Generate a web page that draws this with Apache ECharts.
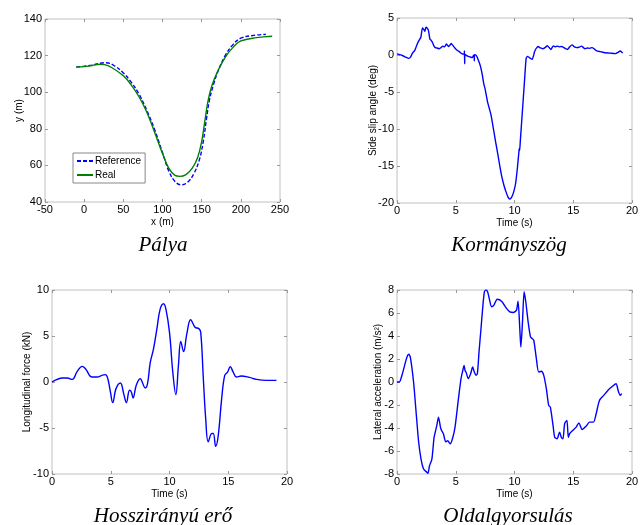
<!DOCTYPE html>
<html>
<head>
<meta charset="utf-8">
<script src="https://cdn.jsdelivr.net/npm/echarts@6/dist/echarts.min.js"></script>
<style>
html,body{margin:0;padding:0;background:#fff;}
#chart{width:642px;height:525px;}
</style>
</head>
<body>
<div id="chart"></div>
<script>
// ---------- Data ----------
// Panel 1: path, [x (m), y (m)]
const pathReference = [[-10,113.8],[0,114.2],[10,114.8],[20,115.8],[28,116.1],[38,114.6],[50,110.5],[60,105.5],[70,99],[80,90],[90,79.5],[100,67],[108,57],[116,51.2],[124,49.4],[132,50.8],[140,55.5],[147,63],[152,73],[156,85],[160,96],[165,104],[170,110.5],[180,120],[190,126],[200,129.5],[215,131],[232,131.6]];
const pathReal = [[-10,113.8],[0,114],[10,114.6],[20,115.3],[26,115.1],[35,113.5],[50,109],[60,104],[70,97.5],[80,89],[90,78],[100,66.5],[108,58.5],[116,54.5],[122,54],[130,55],[138,58.5],[145,64.5],[150,73],[154,84],[158,95],[163,103.5],[170,111],[180,119],[190,124.5],[200,128],[220,129.8],[240,130.6]];

// Panel 2: side slip angle, [time (s), deg]
const sideSlip = [[0,0.15],[0.25,0.05],[0.5,-0.1],[0.75,-0.3],[1.0,-0.46],[1.15,-0.3],[1.33,0.3],[1.5,0.6],[1.61,1.0],[1.75,1.6],[1.89,2.0],[2.03,2.4],[2.17,3.65],[2.3,3.4],[2.37,3.2],[2.45,3.7],[2.51,3.74],[2.6,3.55],[2.68,3.3],[2.8,2.15],[2.9,2.0],[3.02,1.7],[3.15,1.2],[3.25,1.0],[3.4,0.95],[3.6,0.85],[3.75,1.0],[3.9,1.2],[4.05,1.1],[4.2,1.5],[4.3,1.3],[4.4,1.15],[4.5,1.3],[4.6,1.55],[4.7,1.4],[4.85,1.1],[5.0,0.8],[5.15,0.6],[5.3,0.45],[5.45,0.25],[5.6,0.1],[5.72,0.2],[5.74,0.55],[5.76,-1.2],[5.78,0.1],[5.9,-0.05],[6.0,-0.14],[6.2,-0.25],[6.4,-0.35],[6.5,-0.1],[6.56,0.0],[6.58,-0.8],[6.6,0.05],[6.7,0.0],[6.8,-0.2],[6.9,-0.6],[7.0,-1.0],[7.1,-1.5],[7.25,-2.6],[7.4,-4.0],[7.5,-4.6],[7.7,-6.3],[7.85,-7.2],[8.0,-8.1],[8.25,-10.4],[8.4,-11.8],[8.6,-13.6],[8.75,-15.0],[8.9,-16.3],[9.1,-17.6],[9.3,-18.6],[9.45,-19.2],[9.6,-19.45],[9.7,-19.35],[9.8,-19.1],[9.95,-18.4],[10.1,-17.3],[10.25,-15.2],[10.38,-13.0],[10.42,-12.6],[10.44,-12.9],[10.5,-11.5],[10.65,-8.1],[10.75,-5.8],[10.85,-3.56],[10.93,-1.6],[11.0,-0.4],[11.1,-0.2],[11.2,-0.27],[11.35,-0.45],[11.5,-0.6],[11.6,-0.2],[11.7,0.4],[11.8,0.78],[11.9,1.0],[12.0,1.14],[12.2,0.95],[12.4,0.85],[12.6,1.0],[12.8,1.25],[12.95,1.0],[13.1,0.75],[13.2,1.0],[13.3,1.23],[13.5,1.1],[13.65,1.2],[13.8,1.1],[14.0,1.15],[14.1,1.1],[14.3,0.9],[14.5,0.75],[14.7,1.1],[14.9,1.37],[15.1,1.1],[15.3,1.0],[15.5,1.05],[15.7,1.2],[15.9,0.95],[16.0,0.85],[16.2,0.95],[16.4,0.9],[16.6,1.0],[16.8,0.8],[17.0,0.55],[17.3,0.45],[17.7,0.3],[18.1,0.25],[18.6,0.18],[18.85,0.4],[19.0,0.55],[19.1,0.45],[19.2,0.27]];

// Panel 3: longitudinal force, [time (s), kN]
const longForce = [[0,0],[0.45,0.29],[0.87,0.43],[1.3,0.43],[1.72,0.29],[2.15,1.16],[2.57,1.7],[2.85,1.44],[3.4,0.54],[3.84,0.54],[4.3,0.75],[4.55,0.8],[4.75,0.36],[4.97,-1.08],[5.17,-2.24],[5.45,-0.72],[5.82,-0.11],[6.1,-1.26],[6.33,-2.24],[6.6,-0.9],[6.75,-1.08],[6.9,-1.74],[7.17,-0.36],[7.5,0.36],[7.94,-0.65],[8.13,-0.18],[8.36,2.1],[8.64,3.6],[8.93,5.8],[9.2,7.9],[9.49,8.5],[9.7,7.9],[10.0,5.4],[10.28,1.08],[10.54,-1.37],[10.76,1.8],[10.96,4.4],[11.2,3.3],[11.47,5.2],[11.8,6.76],[12.17,5.96],[12.5,5.8],[12.66,5.4],[12.88,0.36],[13.08,-3.97],[13.3,-6.5],[13.6,-5.6],[13.73,-5.6],[13.93,-7.0],[14.15,-5.8],[14.44,-1.8],[14.7,0.72],[14.94,1.08],[15.17,1.66],[15.42,1.08],[15.7,0.54],[16.1,0.65],[16.8,0.5],[17.4,0.29],[18.25,0.18],[19.1,0.18]];

// Panel 4: lateral acceleration, [time (s), m/s^2]
const latAcc = [[0,0],[0.2,0],[0.42,0.58],[0.65,1.45],[0.85,2.18],[1.0,2.41],[1.13,2.18],[1.41,0],[1.6,-2.3],[1.84,-5.2],[2.06,-6.8],[2.26,-7.56],[2.54,-7.85],[2.63,-7.94],[2.77,-7.27],[2.97,-6.7],[3.16,-4.8],[3.39,-3.78],[3.53,-3.05],[3.73,-4.07],[3.95,-4.5],[4.15,-5.2],[4.32,-5.1],[4.52,-5.38],[4.72,-4.94],[4.94,-3.92],[5.23,-1.45],[5.45,0.29],[5.6,1.0],[5.71,1.45],[5.79,1.0],[5.87,0.87],[6.07,0.29],[6.27,0.73],[6.44,1.3],[6.58,0.87],[6.72,0.58],[6.84,0.73],[6.98,2.6],[7.15,4.65],[7.29,6.4],[7.44,7.85],[7.57,8.0],[7.71,7.85],[7.85,7.27],[8.05,6.54],[8.25,6.69],[8.53,7.2],[8.9,7.03],[9.32,6.4],[9.6,6.1],[9.9,6.05],[10.17,6.25],[10.3,7.03],[10.45,4.65],[10.54,3.05],[10.68,5.23],[10.82,7.85],[10.96,6.98],[11.16,5.23],[11.36,3.92],[11.5,3.78],[11.64,3.63],[11.86,2.03],[12.06,0.87],[12.29,0.93],[12.49,0.58],[12.71,-0.58],[12.91,-2.03],[13.05,-2.18],[13.28,-3.78],[13.42,-4.8],[13.62,-4.94],[13.84,-4.36],[13.98,-4.8],[14.12,-4.94],[14.27,-3.63],[14.46,-3.34],[14.58,-4.8],[14.69,-4.5],[14.97,-4.2],[15.25,-3.92],[15.48,-3.55],[15.76,-4.13],[16.1,-3.84],[16.38,-3.49],[16.72,-3.49],[16.95,-2.76],[17.23,-1.6],[17.6,-1.16],[17.94,-0.73],[18.36,-0.35],[18.64,-0.15],[18.84,-0.81],[19.01,-1.16],[19.13,-1.0]];

// Axis ranges / ticks: [min, max, interval]
const pathXTicks = [-50, 250, 50];
const pathYTicks = [40, 140, 20];
const slipYTicks = [-20, 5, 5];
const forceYTicks = [-10, 10, 5];
const accYTicks = [-8, 8, 2];
const timeTicks = [0, 20, 5];

const captions = ['Pálya', 'Kormányszög', 'Hosszirányú erő', 'Oldalgyorsulás'];
const axisNames = {
  pathX: 'x (m)', pathY: 'y (m)', time: 'Time (s)',
  slip: 'Side slip angle (deg)', force: 'Longitudinal force (kN)', acc: 'Lateral acceleration (m/s²)'
};

// ---------- Chart ----------
const FONT = '"Liberation Sans", Arial, Helvetica, sans-serif';
const grids = [
  {left: 45, top: 19, width: 235, height: 183},
  {left: 397, top: 18, width: 235, height: 185},
  {left: 52, top: 290, width: 235, height: 184},
  {left: 397, top: 290, width: 235, height: 184}
];

function mkX(gi, ticks, name, withLabels) {
  return {
    type: 'value', gridIndex: gi, min: ticks[0], max: ticks[1], interval: ticks[2],
    position: withLabels ? 'bottom' : 'top',
    name: withLabels ? name : '', nameLocation: 'middle', nameGap: 15,
    nameTextStyle: {color: '#000', fontSize: 10, fontFamily: FONT},
    axisLine: {show: false, onZero: false},
    axisTick: {show: true, inside: true, length: 3, lineStyle: {color: '#999'}},
    axisLabel: {show: withLabels, color: '#000', fontSize: 11, fontFamily: FONT, margin: 2},
    splitLine: {show: false}
  };
}
function mkY(gi, ticks, name, gap, withLabels) {
  return {
    type: 'value', gridIndex: gi, min: ticks[0], max: ticks[1], interval: ticks[2],
    position: withLabels ? 'left' : 'right',
    name: withLabels ? name : '', nameLocation: 'middle', nameGap: gap, nameRotate: 90,
    nameMoveOverlap: false,
    nameTextStyle: {color: '#000', fontSize: 10, fontFamily: FONT},
    axisLine: {show: false, onZero: false},
    axisTick: {show: true, inside: true, length: 3, lineStyle: {color: '#999'}},
    axisLabel: {show: withLabels, color: '#000', fontSize: 11, fontFamily: FONT, margin: 3},
    splitLine: {show: false}
  };
}

const xAxes = [
  mkX(0, pathXTicks, axisNames.pathX, true), mkX(0, pathXTicks, '', false),
  mkX(1, timeTicks, axisNames.time, true), mkX(1, timeTicks, '', false),
  mkX(2, timeTicks, axisNames.time, true), mkX(2, timeTicks, '', false),
  mkX(3, timeTicks, axisNames.time, true), mkX(3, timeTicks, '', false)
];
// name gaps: distance from the plot edge to the near side of the rotated title
const yAxes = [
  mkY(0, pathYTicks, axisNames.pathY, 21, true), mkY(0, pathYTicks, '', 0, false),
  mkY(1, slipYTicks, axisNames.slip, 19, true), mkY(1, slipYTicks, '', 0, false),
  mkY(2, forceYTicks, axisNames.force, 20, true), mkY(2, forceYTicks, '', 0, false),
  mkY(3, accYTicks, axisNames.acc, 14, true), mkY(3, accYTicks, '', 0, false)
];

const BLUE = '#0000ff', GREEN = '#008000';
function line(name, data, xi, yi, color, dashed, smooth) {
  return {
    type: 'line', name: name, data: data, xAxisIndex: xi, yAxisIndex: yi,
    symbol: 'none', showSymbol: false, legendIcon: 'none', smooth: smooth, animation: false,
    lineStyle: {color: color, width: 1.4, type: dashed ? [4, 2] : 'solid'},
    itemStyle: {color: color}
  };
}

const capPos = [[163, 245], [509, 245], [163, 516], [508, 516]];

const option = {
  backgroundColor: '#fff',
  animation: false,
  grid: grids.map(g => Object.assign({show: true, borderColor: '#c0c0c0', borderWidth: 1, backgroundColor: '#fff'}, g)),
  xAxis: xAxes,
  yAxis: yAxes,
  legend: {
    data: ['Reference', 'Real'], orient: 'vertical', left: 73, top: 153,
    itemWidth: 16, itemHeight: 8, itemGap: 4, padding: [3, 4, 3, 3],
    borderColor: '#888', borderWidth: 1, backgroundColor: '#fff',
    itemStyle: {opacity: 0},
    textStyle: {color: '#000', fontSize: 10, fontFamily: FONT, padding: [0, 0, 0, -3]}
  },
  series: [
    line('Reference', pathReference, 0, 0, BLUE, true, 0.4),
    line('Real', pathReal, 0, 0, GREEN, false, 0.4),
    line('slip', sideSlip, 2, 2, BLUE, false, 0.2),
    line('force', longForce, 4, 4, BLUE, false, 0.4),
    line('acc', latAcc, 6, 6, BLUE, false, 0.25)
  ],
  graphic: captions.map((c, i) => ({
    type: 'text', x: capPos[i][0], y: capPos[i][1],
    style: {text: c, fill: '#000', font: 'italic 21px "Liberation Serif", "Times New Roman", serif', textAlign: 'center', textVerticalAlign: 'middle'}
  }))
};

const chart = echarts.init(document.getElementById('chart'), null, {renderer: 'canvas'});
chart.setOption(option);
</script>
</body>
</html>
